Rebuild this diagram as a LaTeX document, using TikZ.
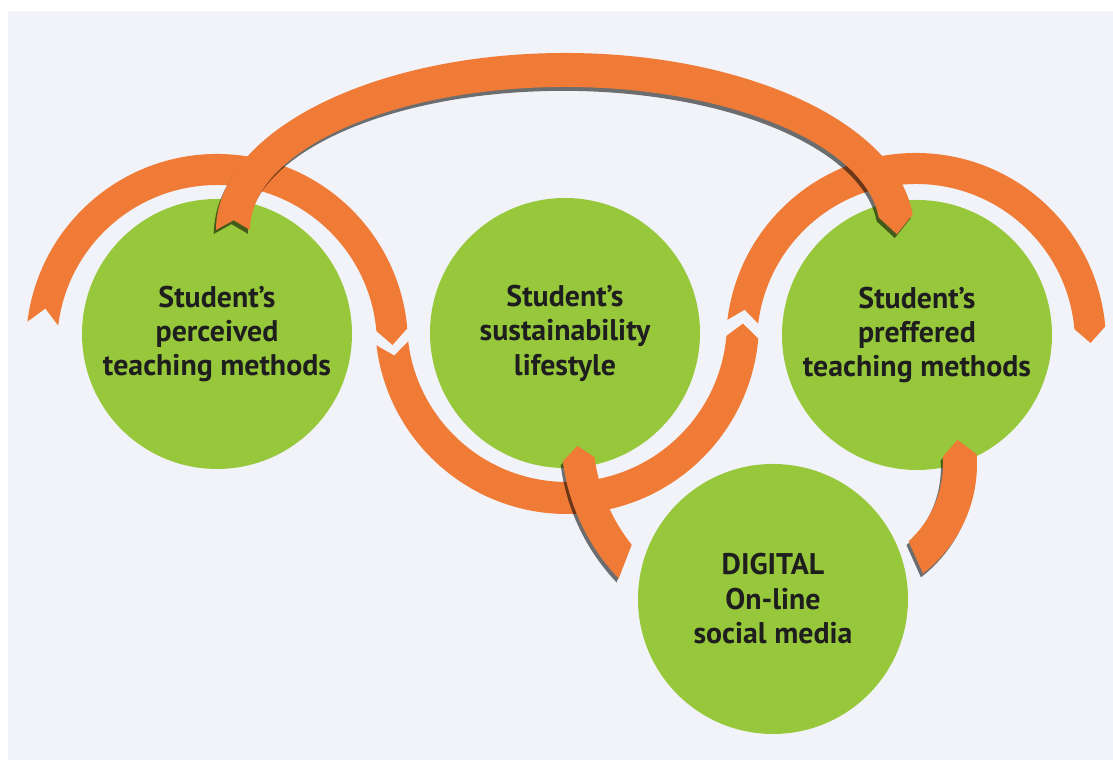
\documentclass[tikz,border=0pt]{standalone}
\usepackage{fontspec}
\setmainfont{PT Sans}
\usepackage{tikz}
\usetikzlibrary{calc,shadows}

\definecolor{leafgreen}{RGB}{151,200,60}
\definecolor{bandorange}{RGB}{240,123,54}
\definecolor{paper}{RGB}{241,243,248}
\definecolor{inkdark}{RGB}{30,30,30}

% ring band: notched tail at the start angle, point at the end angle
\newcommand{\chevband}[8][]{%
  \fill[band,#1,shift={(#2)}] (#3:#6) arc[start angle=#3, end angle=#4, radius=#6]
    -- (#8:{(#5+#6)/2}) -- (#4:#5) arc[start angle=#4, end angle=#3, radius=#5]
    -- (#7:{(#5+#6)/2}) -- cycle;}

\begin{document}
\begin{tikzpicture}[
    topic/.style={circle, fill=leafgreen, minimum size=2.7cm, inner sep=0pt, align=center, text=inkdark, font=\fontsize{8.5}{9.8}\selectfont\bfseries},
    band/.style={fill=bandorange},
    lifted/.style={drop shadow={shadow xshift=-0.6pt, shadow yshift=-1.1pt, fill=black, opacity=0.55}}
  ]
  \useasboundingbox (0,0) rectangle (11.13,7.6);
  \fill[paper] (0.08,0) rectangle (11.13,7.49);

  \node[topic] (perc) at (2.17,4.26) {Student’s\\perceived\\teaching methods};
  \node[topic] (sust) at (5.65,4.27) {Student’s\\sustainability\\lifestyle};
  \node[topic] (pref) at (9.17,4.25) {Student’s\\preffered\\teaching methods};
  \node[topic] (digi) at (7.73,1.61) {DIGITAL\\On-line\\social media};

  % centres of the bands
  \coordinate (o1) at ($(perc)+(0,-0.11)$);
  \coordinate (o2) at ($(sust)+(0.02,0.11)$);
  \coordinate (o3) at ($(pref)+(-0.01,-0.08)$);
  \coordinate (o4) at ($(sust)+(0,1.03)$);
  \coordinate (o5) at ($(digi)+(-0.02,1.65)$);
  \coordinate (o6) at ($(digi)+(0.66,1.35)$);

  % wave under and over the first row
  \chevband{o1}{173}{5}{1.60}{1.91}{168}{0}
  \chevband{o2}{187}{355}{1.60}{1.92}{191}{359.5}
  \chevband{o3}{173}{5}{1.59}{1.90}{169}{0}

  % big arc from perc to pref
  \fill[band,lifted,shift={(o4)}] (180:3.49cm and 1.77cm)
    arc[start angle=180, end angle=5, x radius=3.49, y radius=1.77]
    -- (-1.5:3.32cm and 1.60cm) -- (5:3.15cm and 1.43cm)
    arc[start angle=5, end angle=180, x radius=3.15, y radius=1.43]
    -- (176.5:3.32cm and 1.60cm) -- cycle;

  % digi up to sust and pref
  \fill[band,lifted,shift={(o5)}] (223.5:2.10)
    arc[start angle=223.5, end angle=187.5, radius=2.10]
    -- (183.5:1.94) -- (187.5:1.78)
    arc[start angle=187.5, end angle=218.5, radius=1.78] -- cycle;
  \fill[band,lifted,shift={(o6)}] (-52.5:1.38)
    arc[start angle=-52.5, end angle=4, radius=1.38]
    -- (11.5:1.21) -- (4:1.04)
    arc[start angle=4, end angle=-48, radius=1.04] -- cycle;

\end{tikzpicture}
\end{document}
